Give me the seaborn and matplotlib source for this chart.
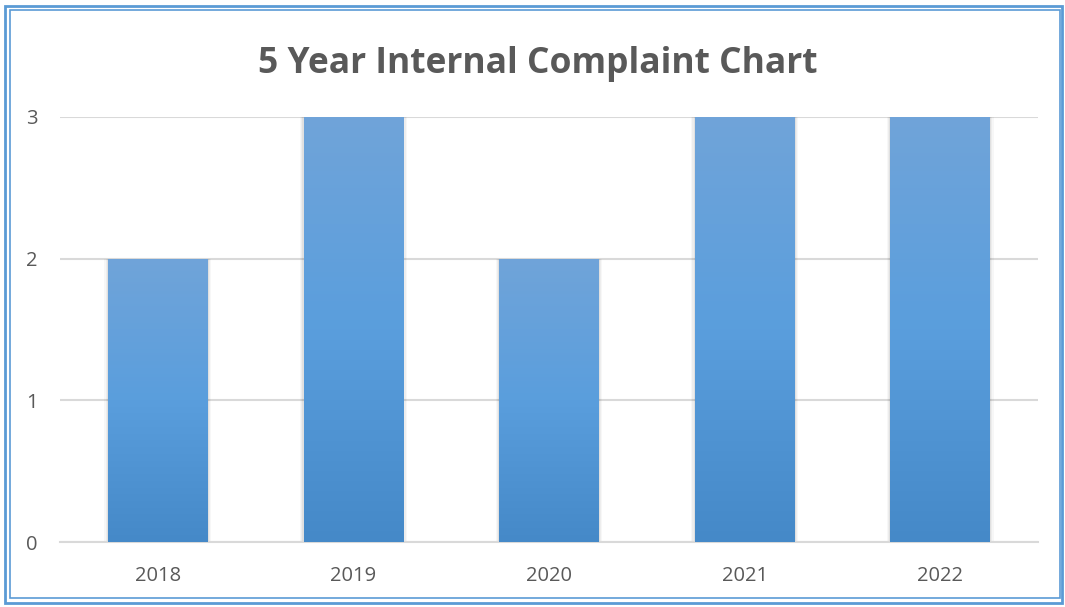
import numpy as np
import pandas as pd
import seaborn as sns
import matplotlib.pyplot as plt
from matplotlib.patches import Rectangle
from matplotlib.colors import LinearSegmentedColormap

years = ["2018", "2019", "2020", "2021", "2022"]
complaints = [2, 3, 2, 3, 3]

df = pd.DataFrame({"Year": years, "Complaints": complaints})

sns.set_style("white")
plt.rcParams['font.family'] = ['Open Sans', 'DejaVu Sans']

fig = plt.figure(figsize=(10.65, 6.07), dpi=100)
ax = fig.add_axes([60 / 1065, 1 - 542 / 607, 978 / 1065, 425 / 607])

ax = sns.barplot(data=df, x="Year", y="Complaints", color="#5b9bd5", width=0.51, ax=ax, zorder=3)

# gradient fill + soft shadow for each bar
cmap = LinearSegmentedColormap.from_list("bar", ["#4589c8", "#5a9edd", "#70a4d9"])
grad = np.linspace(0, 1, 256).reshape(-1, 1)
for p in list(ax.patches):
    x0, w, h = p.get_x(), p.get_width(), p.get_height()
    for i, a in enumerate([0.05, 0.04, 0.03]):
        d = 0.006 * (i + 1)
        ax.add_patch(Rectangle((x0 - d, 0), w + 2 * d, h, color="black", alpha=a, zorder=2, lw=0))
    im = ax.imshow(grad, cmap=cmap, origin="lower", aspect="auto",
                   extent=(x0, x0 + w, 0, h), zorder=4)
    im.set_clip_path(p)
    p.set_alpha(0)

ax.set_xlim(-0.5, 4.5)
ax.set_ylim(0, 3)
ax.set_yticks([0, 1, 2, 3])
ax.yaxis.grid(True, color="#d9d9d9", linewidth=1.5, zorder=0)
ax.set_axisbelow(True)
for s in ["top", "right", "left"]:
    ax.spines[s].set_visible(False)
ax.spines["bottom"].set_color("#d9d9d9")
ax.spines["bottom"].set_linewidth(1.5)
ax.tick_params(axis="both", length=0, labelsize=14.5, labelcolor="#595959")
ax.tick_params(axis="y", pad=16)
ax.tick_params(axis="x", pad=17)
ax.set_xlabel("")
ax.set_ylabel("")

fig.text(538 / 1065, 1 - 64 / 607, "5 Year Internal Complaint Chart", ha="center", va="center",
         fontsize=25.5, fontweight="bold", color="#595959")

# double blue frame
fig.patches.append(Rectangle((5 / 1065, 4 / 607), 1057 / 1065, 597 / 607, transform=fig.transFigure,
                             fill=False, edgecolor="#5b9bd5", linewidth=2))
fig.patches.append(Rectangle((10 / 1065, 9 / 607), 1050 / 1065, 588 / 607, transform=fig.transFigure,
                             fill=False, edgecolor="#5b9bd5", linewidth=1.2))

fig.savefig("out.png", dpi=100)
